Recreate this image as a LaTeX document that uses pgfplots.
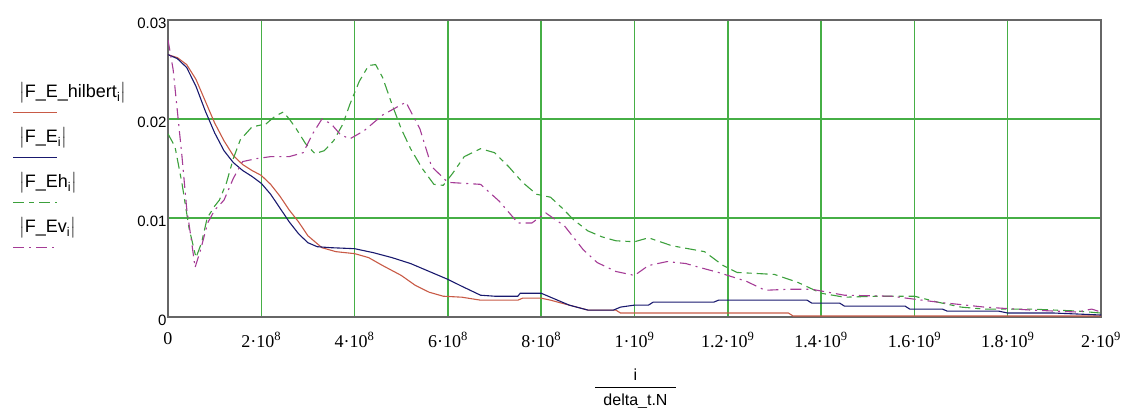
\documentclass[border=0pt]{standalone}
\usepackage{fontspec}
\setmainfont{Liberation Sans}
\newfontfamily\tnr{Liberation Serif}
\usepackage{amsmath}
\usepackage{pgfplots}
\pgfplotsset{compat=1.18}

\definecolor{gridgreen}{RGB}{70,175,70}
\definecolor{hilbred}{RGB}{200,90,70}
\definecolor{fenavy}{RGB}{25,25,110}
\definecolor{ehgreen}{RGB}{60,160,60}
\definecolor{evpurple}{RGB}{165,60,150}

\begin{document}
\begin{tikzpicture}
\useasboundingbox (0pt,0pt) rectangle (1124pt,407pt);
\begin{axis}[
    at={(168pt,90pt)}, anchor=south west,
    width=933pt, height=297pt, scale only axis,
    xmin=0, xmax=2e9, ymin=0, ymax=0.03,
    scaled ticks=false,
    /pgf/number format/assume math mode=true,
    xtick={0,2e8,4e8,6e8,8e8,1e9,1.2e9,1.4e9,1.6e9,1.8e9,2e9},
    xticklabels={0, 2·10\textsuperscript{8}, 4·10\textsuperscript{8}, 6·10\textsuperscript{8}, 8·10\textsuperscript{8},
                 1·10\textsuperscript{9}, 1.2·10\textsuperscript{9}, 1.4·10\textsuperscript{9},
                 1.6·10\textsuperscript{9}, 1.8·10\textsuperscript{9}, 2·10\textsuperscript{9}},
    ytick={0,0.01,0.02,0.03},
    yticklabels={0,0.01,0.02,0.03},
    major tick length=0pt,
    xticklabel style={font=\tnr\fontsize{18}{20}\selectfont, yshift=-12pt},
    yticklabel style={font=\fontsize{15}{17}\selectfont, yshift=-3pt, xshift=2pt},
    grid=major,
    major grid style={draw=gridgreen, line width=1.5pt},
    axis line style={draw=gray!80!black, line width=1.3pt},
    xlabel={$\dfrac{\text{i}}{\hspace{8pt}\rule{0pt}{15pt}\text{delta\_t.N}\hspace{8pt}}$},
    xlabel style={font=\fontsize{16}{18}\selectfont, at={(axis description cs:0.5,0)}, anchor=base, yshift=-75pt, xshift=1pt},
    legend style={at={(axis description cs:0,1)}, anchor=north west, xshift=-153pt, yshift=-60pt,
        draw=none, fill=none, inner sep=0pt, row sep=20pt, column sep=2pt,
        font=\fontsize{18}{20}\selectfont,
        nodes={inner sep=2pt, text height=15pt, text depth=6pt}},
    legend cell align=left,
    legend image code/.code={
        \path[draw=none, fill=none] (0pt,-1pt) rectangle (0pt,1pt);
        \draw[#1, overlay] (-2pt,-20pt) -- (42pt,-20pt);
    },
]
% |F_E_hilbert_i|
\addplot[hilbred, line width=1.1pt] coordinates {
(0,0.0265) (0.2e8,0.0262) (0.4e8,0.0255) (0.6e8,0.0240) (0.8e8,0.0218) (1.0e8,0.0196)
(1.2e8,0.0178) (1.4e8,0.0163) (1.6e8,0.0154) (1.8e8,0.0148) (2.0e8,0.0143) (2.2e8,0.0134)
(2.4e8,0.0122) (2.6e8,0.0108) (2.8e8,0.0096) (3.0e8,0.0082) (3.3e8,0.0070) (3.6e8,0.0066)
(4.0e8,0.0064) (4.3e8,0.0060) (4.6e8,0.0052) (5.0e8,0.0042) (5.3e8,0.0032) (5.6e8,0.0025)
(5.9e8,0.0021) (6.3e8,0.0020) (6.7e8,0.0017) (7.5e8,0.0017) (7.6e8,0.0019) (8.0e8,0.0019)
(8.2e8,0.0017) (8.6e8,0.0012) (9.0e8,0.0007) (9.6e8,0.0007) (9.7e8,0.0004) (1.33e9,0.0004)
(1.34e9,0.0001) (2e9,0.0001)
};
\addlegendentry{$\bigl|\text{F\_E\_hilbert}_{\text{i}}\bigr|$}
% |F_E_i|
\addplot[fenavy, line width=1.1pt] coordinates {
(0,0.0265) (0.2e8,0.0261) (0.4e8,0.0252) (0.6e8,0.0233) (0.8e8,0.0208) (1.0e8,0.0186)
(1.2e8,0.0168) (1.4e8,0.0156) (1.6e8,0.0148) (1.8e8,0.0142) (2.0e8,0.0135) (2.2e8,0.0124)
(2.4e8,0.0110) (2.6e8,0.0096) (2.8e8,0.0084) (3.0e8,0.0075) (3.2e8,0.0071) (3.5e8,0.0070)
(4.0e8,0.0069) (4.4e8,0.0065) (4.8e8,0.0060) (5.2e8,0.0054) (5.6e8,0.0046) (6.0e8,0.0038)
(6.3e8,0.0031) (6.7e8,0.0022) (7.0e8,0.0021) (7.5e8,0.0021) (7.55e8,0.0024) (8.0e8,0.0024)
(8.25e8,0.0019) (8.6e8,0.0012) (9.0e8,0.0007) (9.55e8,0.0007) (9.7e8,0.0010) (1.0e9,0.0012)
(1.03e9,0.0012) (1.04e9,0.0015) (1.17e9,0.0015) (1.18e9,0.0017) (1.37e9,0.0017) (1.38e9,0.0014)
(1.44e9,0.0014) (1.45e9,0.0011) (1.58e9,0.0011) (1.59e9,0.0008) (1.66e9,0.0008) (1.67e9,0.0006)
(1.78e9,0.0006) (1.8e9,0.0004) (1.9e9,0.0004) (2e9,0.0002)
};
\addlegendentry{$\bigl|\text{F\_E}_{\text{i}}\bigr|$}
% |F_Eh_i|
\addplot[ehgreen, line width=1.1pt, dash pattern=on 11pt off 5pt on 5pt off 5pt] coordinates {
(0,0.0185) (0.15e8,0.0172) (0.3e8,0.0135) (0.45e8,0.0090) (0.6e8,0.0060) (0.72e8,0.0075)
(0.84e8,0.0100) (1.0e8,0.0112) (1.1e8,0.0118) (1.25e8,0.0135) (1.4e8,0.0160) (1.55e8,0.0179)
(1.8e8,0.0192) (2.1e8,0.0195) (2.3e8,0.0203) (2.47e8,0.0207) (2.6e8,0.0200) (2.75e8,0.0190)
(2.95e8,0.0175) (3.15e8,0.0165) (3.35e8,0.0168) (3.55e8,0.0178) (3.75e8,0.0195) (3.9e8,0.0215)
(4.1e8,0.0238) (4.3e8,0.0254) (4.45e8,0.0255) (4.6e8,0.0242) (4.8e8,0.0215) (5.0e8,0.0190)
(5.2e8,0.0170) (5.45e8,0.0150) (5.7e8,0.0134) (5.9e8,0.0133) (6.1e8,0.0145) (6.35e8,0.0162)
(6.7e8,0.0170) (7.0e8,0.0166) (7.3e8,0.0152) (7.6e8,0.0136) (7.9e8,0.0124) (8.2e8,0.0121)
(8.45e8,0.0110) (8.7e8,0.0098) (9.0e8,0.0087) (9.3e8,0.0081) (9.6e8,0.0077) (1.0e9,0.0076)
(1.03e9,0.0080) (1.08e9,0.0072) (1.15e9,0.0066) (1.19e9,0.0052) (1.22e9,0.0045) (1.3e9,0.0043)
(1.35e9,0.0035) (1.4e9,0.0024) (1.45e9,0.0020) (1.52e9,0.0021) (1.6e9,0.0021) (1.65e9,0.0015)
(1.7e9,0.0010) (1.75e9,0.0008) (1.85e9,0.0008) (1.95e9,0.0006) (2e9,0.0004)
};
\addlegendentry{$\bigl|\text{F\_Eh}_{\text{i}}\bigr|$}
% |F_Ev_i|
\addplot[evpurple, line width=1.1pt, dash pattern=on 11pt off 5pt on 2pt off 5pt] coordinates {
(0,0.0280) (0.11e8,0.0250) (0.3e8,0.0162) (0.4e8,0.0110) (0.5e8,0.0078) (0.58e8,0.0050)
(0.7e8,0.0068) (0.85e8,0.0095) (1.0e8,0.0108) (1.2e8,0.0118) (1.4e8,0.0140) (1.6e8,0.0157)
(1.9e8,0.0160) (2.2e8,0.0162) (2.6e8,0.0162) (2.9e8,0.0166) (3.1e8,0.0185) (3.3e8,0.0200)
(3.5e8,0.0195) (3.7e8,0.0184) (3.9e8,0.0180) (4.2e8,0.0188) (4.6e8,0.0204) (5.1e8,0.0217)
(5.4e8,0.0190) (5.65e8,0.0152) (6.0e8,0.0136) (6.7e8,0.0134) (7.1e8,0.0117) (7.5e8,0.0095)
(7.8e8,0.0095) (8.1e8,0.0105) (8.5e8,0.0092) (8.9e8,0.0068) (9.2e8,0.0055) (9.6e8,0.0046)
(1.0e9,0.0042) (1.03e9,0.0052) (1.07e9,0.0056) (1.11e9,0.0054) (1.14e9,0.0050) (1.18e9,0.0045)
(1.24e9,0.0036) (1.28e9,0.0027) (1.33e9,0.0028) (1.38e9,0.0028) (1.45e9,0.0022) (1.55e9,0.0021)
(1.65e9,0.0015) (1.75e9,0.0010) (1.85e9,0.0007) (1.95e9,0.0005) (1.98e9,0.0008) (2e9,0.0005)
};
\addlegendentry{$\bigl|\text{F\_Ev}_{\text{i}}\bigr|$}
\end{axis}
\end{tikzpicture}
\end{document}
